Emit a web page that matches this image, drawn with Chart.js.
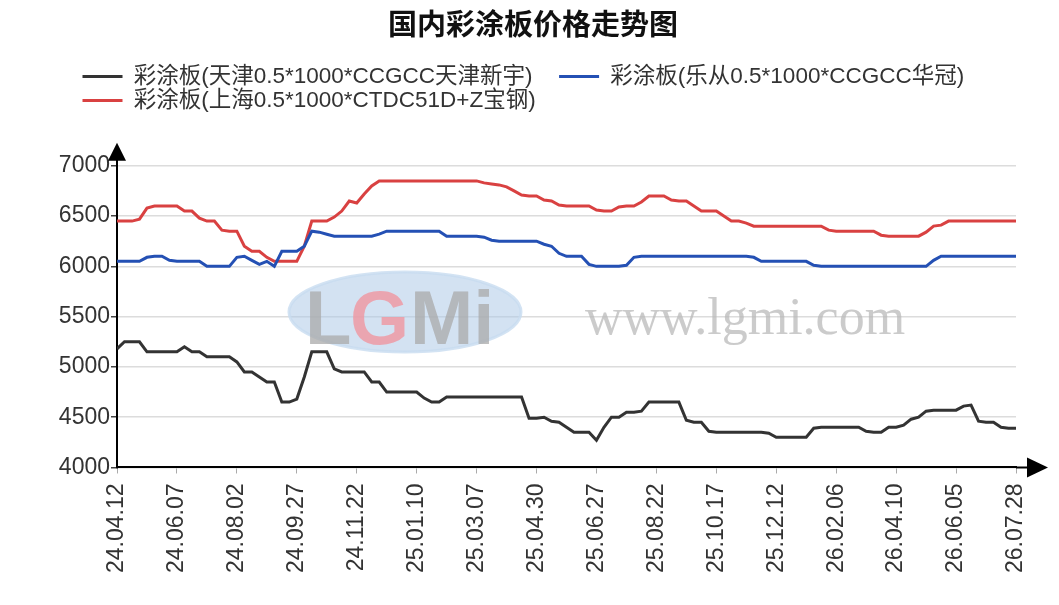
<!DOCTYPE html>
<html>
<head>
<meta charset="utf-8">
<title>国内彩涂板价格走势图</title>
<script src="https://cdn.jsdelivr.net/npm/chart.js@4.4.1/dist/chart.umd.min.js"></script>
<style>
  html, body { margin: 0; padding: 0; background: #fff; }
  #wrap { width: 1059px; height: 605px; }
</style>
</head>
<body>
<div id="wrap"><canvas id="line-chartcanvas"></canvas></div>
<script>
// x tick labels, one every 8 points
var tickLabels = ['24.04.12', '24.06.07', '24.08.02', '24.09.27', '24.11.22', '25.01.10', '25.03.07', '25.04.30',
  '25.06.27', '25.08.22', '25.10.17', '25.12.12', '26.02.06', '26.04.10', '26.06.05', '26.07.28'];
var pointsPerLabel = 8;

var seriesNames = [
  '彩涂板(天津0.5*1000*CCGCC天津新宇)',
  '彩涂板(乐从0.5*1000*CCGCC华冠)',
  '彩涂板(上海0.5*1000*CTDC51D+Z宝钢)'
];

// 天津
var tianjin = [
  5180, 5250, 5250, 5250, 5150, 5150, 5150, 5150, 5150, 5200,
  5150, 5150, 5100, 5100, 5100, 5100, 5050, 4950, 4950, 4900,
  4850, 4850, 4650, 4650, 4680, 4900, 5150, 5150, 5150, 4980,
  4950, 4950, 4950, 4950, 4850, 4850, 4750, 4750, 4750, 4750,
  4750, 4690, 4650, 4650, 4700, 4700, 4700, 4700, 4700, 4700,
  4700, 4700, 4700, 4700, 4700, 4490, 4490, 4500, 4460, 4450,
  4400, 4350, 4350, 4350, 4270, 4400, 4500, 4500, 4550, 4550,
  4560, 4650, 4650, 4650, 4650, 4650, 4470, 4450, 4450, 4360,
  4350, 4350, 4350, 4350, 4350, 4350, 4350, 4340, 4300, 4300,
  4300, 4300, 4300, 4390, 4400, 4400, 4400, 4400, 4400, 4400,
  4360, 4350, 4350, 4400, 4400, 4420, 4480, 4500, 4560, 4570,
  4570, 4570, 4570, 4610, 4620, 4460, 4450, 4450, 4400, 4390,
  4390
];

// 乐从
var lecong = [
  6050, 6050, 6050, 6050, 6090, 6100, 6100, 6060, 6050, 6050,
  6050, 6050, 6000, 6000, 6000, 6000, 6090, 6100, 6060, 6020,
  6050, 6000, 6150, 6150, 6150, 6200, 6350, 6340, 6320, 6300,
  6300, 6300, 6300, 6300, 6300, 6320, 6350, 6350, 6350, 6350,
  6350, 6350, 6350, 6350, 6300, 6300, 6300, 6300, 6300, 6290,
  6260, 6250, 6250, 6250, 6250, 6250, 6250, 6220, 6200, 6130,
  6100, 6100, 6100, 6020, 6000, 6000, 6000, 6000, 6010, 6090,
  6100, 6100, 6100, 6100, 6100, 6100, 6100, 6100, 6100, 6100,
  6100, 6100, 6100, 6100, 6100, 6090, 6050, 6050, 6050, 6050,
  6050, 6050, 6050, 6010, 6000, 6000, 6000, 6000, 6000, 6000,
  6000, 6000, 6000, 6000, 6000, 6000, 6000, 6000, 6000, 6060,
  6100, 6100, 6100, 6100, 6100, 6100, 6100, 6100, 6100, 6100,
  6100
];

// 上海
var shanghai = [
  6450, 6450, 6450, 6470, 6580, 6600, 6600, 6600, 6600, 6550,
  6550, 6480, 6450, 6450, 6360, 6350, 6350, 6200, 6150, 6150,
  6090, 6050, 6050, 6050, 6050, 6200, 6450, 6450, 6450, 6490,
  6550, 6650, 6630, 6720, 6800, 6850, 6850, 6850, 6850, 6850,
  6850, 6850, 6850, 6850, 6850, 6850, 6850, 6850, 6850, 6830,
  6820, 6810, 6790, 6750, 6710, 6700, 6700, 6660, 6650, 6610,
  6600, 6600, 6600, 6600, 6560, 6550, 6550, 6590, 6600, 6600,
  6640, 6700, 6700, 6700, 6660, 6650, 6650, 6600, 6550, 6550,
  6550, 6500, 6450, 6450, 6430, 6400, 6400, 6400, 6400, 6400,
  6400, 6400, 6400, 6400, 6400, 6360, 6350, 6350, 6350, 6350,
  6350, 6350, 6310, 6300, 6300, 6300, 6300, 6300, 6340, 6400,
  6410, 6450, 6450, 6450, 6450, 6450, 6450, 6450, 6450, 6450,
  6450
];

var seriesColors = ['#333333', '#2450b4', '#d94141'];

function toPoints(arr) {
  var out = [];
  for (var i = 0; i < arr.length; i++) {
    out.push({ x: i, y: arr[i] });
  }
  return out;
}

var font = 'Liberation Sans, Arial, Noto Sans CJK SC, sans-serif';

// watermark, axis arrows, legend offset
var decorPlugin = {
  id: 'decor',
  afterLayout: function(chart) {
    // legend starts further right than the y axis labels
    chart.legend.left = 81;
  },
  beforeDatasetsDraw: function(chart) {
    var ctx = chart.ctx;
    ctx.save();
    // logo
    ctx.beginPath();
    ctx.ellipse(405, 312, 116, 40, 0, 0, Math.PI * 2);
    ctx.fillStyle = 'rgba(175,202,232,0.55)';
    ctx.fill();
    ctx.lineWidth = 3;
    ctx.strokeStyle = 'rgba(200,220,240,0.8)';
    ctx.stroke();
    ctx.font = 'bold 76px Liberation Sans, Arial, sans-serif';
    ctx.textBaseline = 'alphabetic';
    ctx.fillStyle = 'rgba(170,170,170,0.75)';
    ctx.fillText('L', 305, 344);
    ctx.fillStyle = 'rgba(240,150,160,0.8)';
    ctx.fillText('G', 350, 344);
    ctx.fillStyle = 'rgba(170,170,170,0.75)';
    ctx.fillText('Mi', 410, 344);
    // site name
    ctx.font = '52px Liberation Serif, serif';
    ctx.fillStyle = 'rgba(185,185,185,0.75)';
    ctx.fillText('www.lgmi.com', 585, 334);
    ctx.restore();
  },
  afterDraw: function(chart) {
    var ctx = chart.ctx;
    var a = chart.chartArea;
    ctx.save();
    ctx.strokeStyle = '#000';
    ctx.fillStyle = '#000';
    ctx.lineWidth = 2;
    ctx.beginPath();
    ctx.moveTo(a.left, a.top);
    ctx.lineTo(a.left, a.top - 6);
    ctx.moveTo(a.right, a.bottom);
    ctx.lineTo(a.right + 12, a.bottom);
    ctx.stroke();
    ctx.beginPath();
    ctx.moveTo(a.left, a.top - 23);
    ctx.lineTo(a.left + 9, a.top - 5);
    ctx.lineTo(a.left - 9, a.top - 5);
    ctx.closePath();
    ctx.fill();
    ctx.beginPath();
    ctx.moveTo(a.right + 32, a.bottom);
    ctx.lineTo(a.right + 11, a.bottom - 10);
    ctx.lineTo(a.right + 11, a.bottom + 10);
    ctx.closePath();
    ctx.fill();
    ctx.restore();
  }
};

var ctx = document.getElementById('line-chartcanvas');

var data = {
  datasets: [
    {
      label: seriesNames[0],
      data: toPoints(tianjin),
      borderColor: seriesColors[0],
      backgroundColor: seriesColors[0],
      borderWidth: 3,
      pointRadius: 0,
      tension: 0,
      fill: false
    },
    {
      label: seriesNames[1],
      data: toPoints(lecong),
      borderColor: seriesColors[1],
      backgroundColor: seriesColors[1],
      borderWidth: 3,
      pointRadius: 0,
      tension: 0,
      fill: false
    },
    {
      label: seriesNames[2],
      data: toPoints(shanghai),
      borderColor: seriesColors[2],
      backgroundColor: seriesColors[2],
      borderWidth: 3,
      pointRadius: 0,
      tension: 0,
      fill: false
    }
  ]
};

var chart = new Chart(ctx, {
  type: 'line',
  data: data,
  plugins: [decorPlugin],
  options: {
    responsive: true,
    maintainAspectRatio: false,
    animation: false,
    layout: { padding: { left: 50, right: 43, top: 0, bottom: 22 } },
    plugins: {
      title: {
        display: true,
        text: '国内彩涂板价格走势图',
        color: '#111',
        font: { family: 'Noto Sans CJK SC, sans-serif', size: 29, weight: 'bold' },
        padding: { top: 7, bottom: 22 }
      },
      subtitle: {
        display: true,
        text: '',
        weight: 500,
        font: { size: 10, lineHeight: 1 },
        padding: { top: 34, bottom: 0 }
      },
      legend: {
        display: true,
        position: 'top',
        align: 'start',
        labels: {
          boxWidth: 40,
          boxHeight: 3,
          padding: 1.5,
          color: '#333',
          font: { family: font, size: 22.5 },
          generateLabels: function(c) {
            var items = Chart.defaults.plugins.legend.labels.generateLabels(c);
            items.forEach(function(it) {
              it.lineWidth = 0;
              it.text = it.text + '    ';
            });
            return items;
          }
        }
      },
      tooltip: { enabled: false }
    },
    scales: {
      x: {
        type: 'linear',
        min: 0,
        max: (tickLabels.length - 1) * pointsPerLabel,
        border: { color: '#000', width: 2 },
        grid: { drawOnChartArea: false, drawTicks: true, tickLength: 6, tickColor: '#aaa' },
        ticks: {
          stepSize: pointsPerLabel,
          autoSkip: false,
          minRotation: 90,
          maxRotation: 90,
          padding: 10,
          color: '#333',
          font: { family: font, size: 23 },
          callback: function(v) {
            return tickLabels[Math.round(v / pointsPerLabel)];
          }
        }
      },
      y: {
        min: 4000,
        max: 7000,
        border: { color: '#000', width: 2 },
        grid: { color: '#dcdcdc', lineWidth: 1.5, tickLength: 6, tickColor: '#444' },
        ticks: {
          stepSize: 500,
          padding: 1,
          color: '#333',
          font: { family: font, size: 23 },
          callback: function(v) {
            return String(v);
          }
        },
        afterFit: function(scale) {
          scale.width = 67;
        }
      }
    }
  }
});
</script>
</body>
</html>
